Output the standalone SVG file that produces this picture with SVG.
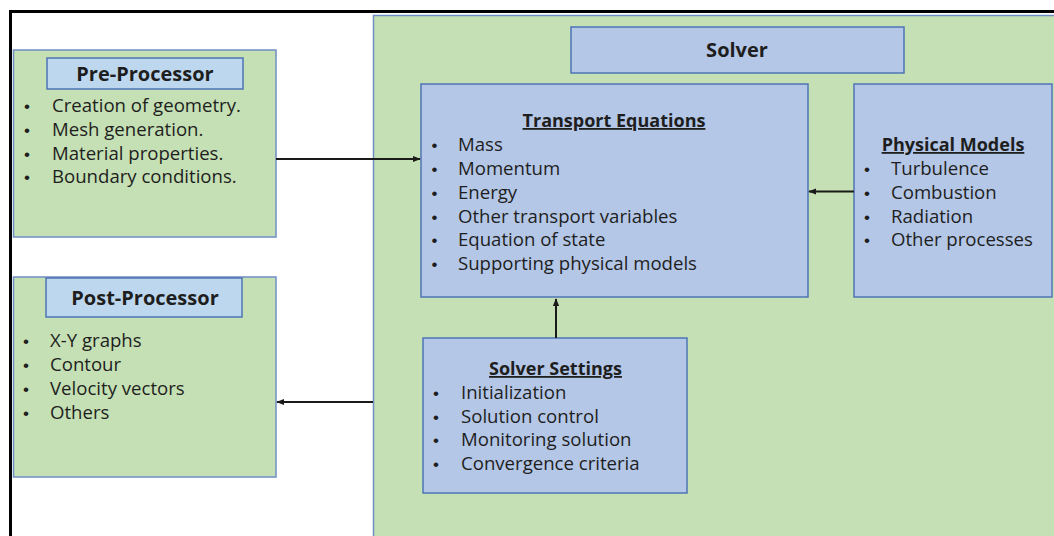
<svg xmlns="http://www.w3.org/2000/svg" width="1054" height="536" viewBox="0 0 1054 536">
  <style>
    .green { fill: #c5e0b4; stroke: #6f8fc4; stroke-width: 1.5; }
    .head { fill: #bdd7ee; stroke: #4f74b5; stroke-width: 1.5; }
    .blue { fill: #b4c7e7; stroke: #4f74b5; stroke-width: 1.5; }
    text { font-family: "Open Sans", "Liberation Sans", sans-serif; fill: #1e1e1e; }
    .title { font-size: 20px; font-weight: bold; text-anchor: middle; }
    .sub { font-size: 18px; font-weight: bold; text-anchor: middle; text-decoration: underline; }
    .item { font-size: 18.6px; }
    .dot { font-family: "Liberation Sans", sans-serif; font-size: 17px; text-anchor: middle; }
    .conn { stroke: #1a1a1a; stroke-width: 2; fill: none; marker-end: url(#arrow); }
  </style>
  <defs>
    <marker id="arrow" viewBox="0 0 10 10" refX="9" refY="5" markerWidth="4" markerHeight="4" orient="auto" markerUnits="strokeWidth">
      <path d="M0,1 L10,5 L0,9 z" fill="#1a1a1a"/>
    </marker>
  </defs>

  <rect width="1054" height="536" fill="#ffffff"/>
  <!-- outer frame -->
  <rect x="10.5" y="11.5" width="1100" height="600" fill="none" stroke="#000000" stroke-width="3"/>

  <!-- solver region -->
  <g id="solver">
    <rect class="green" x="373.5" y="15.5" width="700" height="560"/>
    <rect class="blue" x="571" y="27" width="333" height="46"/>
    <text class="title" x="737" y="57">Solver</text>
  </g>

  <g id="pre-processor">
    <rect class="green" x="13.5" y="50" width="262.5" height="187"/>
    <rect class="head" x="47" y="58" width="196" height="31"/>
    <text class="title" x="145" y="81">Pre-Processor</text>
    <text class="dot" x="27" y="112">•</text><text class="item" x="52" y="112">Creation of geometry.</text>
    <text class="dot" x="27" y="136">•</text><text class="item" x="52" y="136">Mesh generation.</text>
    <text class="dot" x="27" y="159.5">•</text><text class="item" x="52" y="159.5">Material properties.</text>
    <text class="dot" x="27" y="183">•</text><text class="item" x="52" y="183">Boundary conditions.</text>
  </g>

  <g id="post-processor">
    <rect class="green" x="13.5" y="277" width="262.5" height="200"/>
    <rect class="head" x="46" y="278" width="196" height="39"/>
    <text class="title" x="145" y="305">Post-Processor</text>
    <text class="dot" x="26" y="347">•</text><text class="item" x="50" y="347">X-Y graphs</text>
    <text class="dot" x="26" y="370.5">•</text><text class="item" x="50" y="370.5">Contour</text>
    <text class="dot" x="26" y="394.5">•</text><text class="item" x="50" y="394.5">Velocity vectors</text>
    <text class="dot" x="26" y="418.5">•</text><text class="item" x="50" y="418.5">Others</text>
  </g>

  <g id="transport-equations">
    <rect class="blue" x="421" y="84" width="387" height="213"/>
    <text class="sub" x="614" y="127">Transport Equations</text>
    <text class="dot" x="434.5" y="151">•</text><text class="item" x="458" y="151">Mass</text>
    <text class="dot" x="434.5" y="175">•</text><text class="item" x="458" y="175">Momentum</text>
    <text class="dot" x="434.5" y="199">•</text><text class="item" x="458" y="199">Energy</text>
    <text class="dot" x="434.5" y="222.5">•</text><text class="item" x="458" y="222.5">Other transport variables</text>
    <text class="dot" x="434.5" y="246">•</text><text class="item" x="458" y="246">Equation of state</text>
    <text class="dot" x="434.5" y="270">•</text><text class="item" x="458" y="270">Supporting physical models</text>
  </g>

  <g id="physical-models">
    <rect class="blue" x="854" y="84" width="198" height="213"/>
    <text class="sub" x="953" y="151">Physical Models</text>
    <text class="dot" x="867" y="175">•</text><text class="item" x="891" y="175">Turbulence</text>
    <text class="dot" x="867" y="199">•</text><text class="item" x="891" y="199">Combustion</text>
    <text class="dot" x="867" y="222.5">•</text><text class="item" x="891" y="222.5">Radiation</text>
    <text class="dot" x="867" y="246">•</text><text class="item" x="891" y="246">Other processes</text>
  </g>

  <g id="solver-settings">
    <rect class="blue" x="423" y="338" width="264" height="155"/>
    <text class="sub" x="555.5" y="375">Solver Settings</text>
    <text class="dot" x="436" y="399">•</text><text class="item" x="461" y="399">Initialization</text>
    <text class="dot" x="436" y="422.5">•</text><text class="item" x="461" y="422.5">Solution control</text>
    <text class="dot" x="436" y="446">•</text><text class="item" x="461" y="446">Monitoring solution</text>
    <text class="dot" x="436" y="470">•</text><text class="item" x="461" y="470">Convergence criteria</text>
  </g>

  <g id="connectors">
    <line class="conn" x1="276" y1="159" x2="420" y2="159"/>
    <line class="conn" x1="854" y1="191.5" x2="809" y2="191.5"/>
    <line class="conn" x1="556" y1="338" x2="556" y2="299"/>
    <line class="conn" x1="373" y1="402" x2="277" y2="402"/>
  </g>
</svg>
